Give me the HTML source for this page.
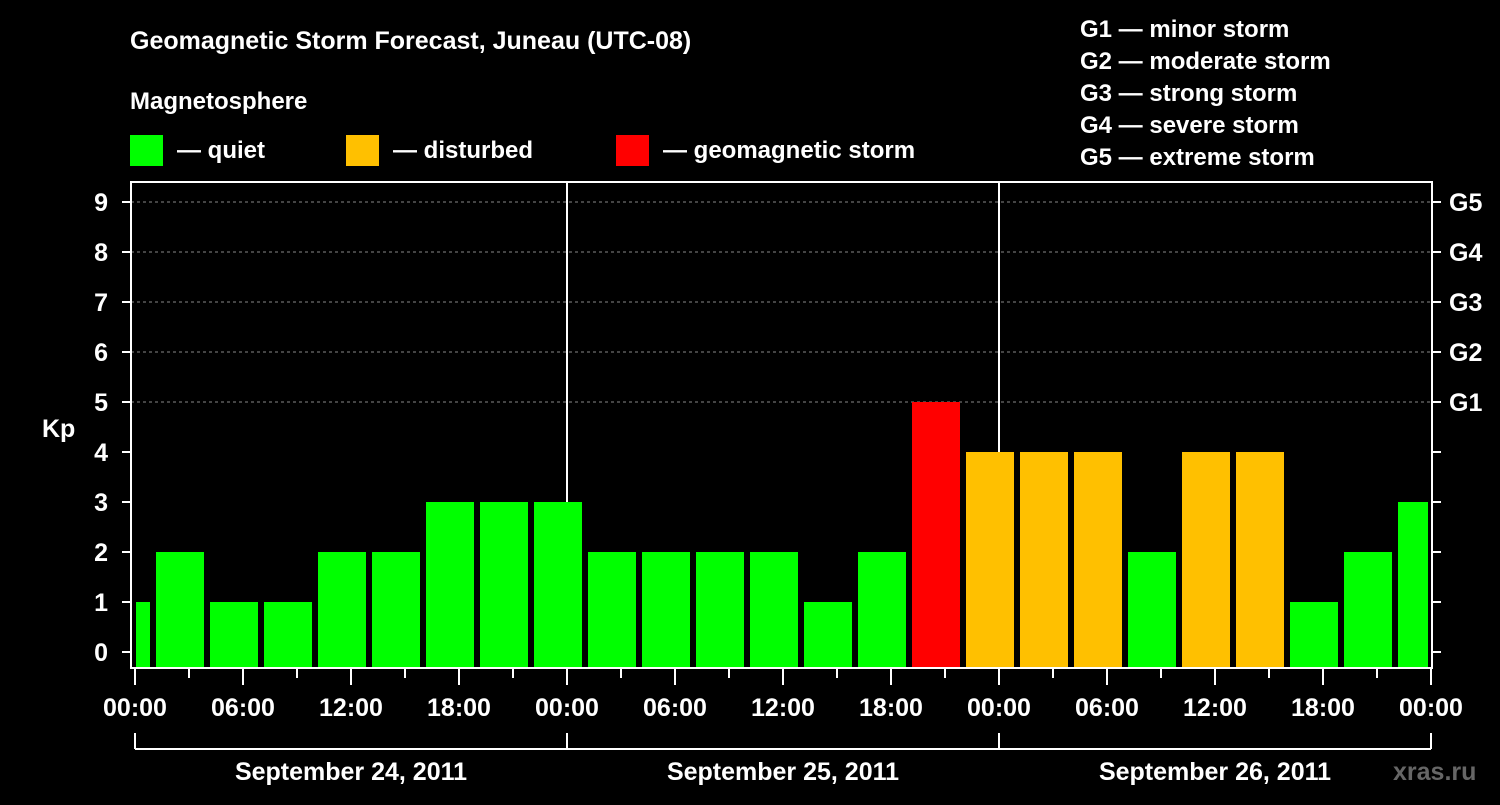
<!DOCTYPE html>
<html><head><meta charset="utf-8"><style>
body{margin:0;background:#000;width:1500px;height:800px;overflow:hidden}
text{font-family:"Liberation Sans",Arial,sans-serif;font-weight:bold;fill:#fff}
</style></head><body>
<svg id="chart" width="1500" height="800" xmlns="http://www.w3.org/2000/svg">
<rect width="1500" height="800" fill="#000"/>
<text x="130" y="49" font-size="25">Geomagnetic Storm Forecast, Juneau (UTC-08)</text>
<text x="130" y="109" font-size="24">Magnetosphere</text>
<g><rect x="130" y="135" width="33" height="31" fill="#00ff00"/><text x="177" y="158" font-size="24">— quiet</text></g>
<g><rect x="346" y="135" width="33" height="31" fill="#ffc000"/><text x="393" y="158" font-size="24">— disturbed</text></g>
<g><rect x="616" y="135" width="33" height="31" fill="#ff0000"/><text x="663" y="158" font-size="24">— geomagnetic storm</text></g>
<g font-size="24">
<text x="1080" y="37">G1 — minor storm</text>
<text x="1080" y="69">G2 — moderate storm</text>
<text x="1080" y="101">G3 — strong storm</text>
<text x="1080" y="133">G4 — severe storm</text>
<text x="1080" y="165">G5 — extreme storm</text>
</g>
<text x="42" y="437" font-size="25">Kp</text>
<g id="grid"></g><g id="bars"></g><g id="axes"></g>
<text x="1393" y="780" font-size="25" style="fill:#666">xras.ru</text>
</svg>
<script>
const kpValues=[1,2,1,1,2,2,3,3,3,2,2,2,2,1,2,5,4,4,4,2,4,4,1,2,3];
const binStartHours=[-2,1,4,7,10,13,16,19,22,25,28,31,34,37,40,43,46,49,52,55,58,61,64,67,70];
const dayLabels=["September 24, 2011","September 25, 2011","September 26, 2011"];
const hourLabels=["00:00","06:00","12:00","18:00"];
const gLabels=["G1","G2","G3","G4","G5"];
const NS="http://www.w3.org/2000/svg";
const X0=135,PX_H=18,TOTAL_H=72,Y0=652,PX_K=50,L=131,R=1432,T=182,B=668;
const xs=h=>X0+h*PX_H, ys=k=>Y0-k*PX_K;
function mk(p,tag,a){const e=document.createElementNS(NS,tag);for(const k in a)e.setAttribute(k,a[k]);document.getElementById(p).appendChild(e);return e;}
// grid dashed lines for 5..9
for(let k=5;k<=9;k++){const e=mk("grid","line",{x1:L,x2:R,y1:ys(k),y2:ys(k),stroke:"#888","stroke-dasharray":"3,3","stroke-width":1});

}
// day separators
for(let d=1;d<3;d++){const e=mk("grid","line",{x1:xs(d*24),x2:xs(d*24),y1:T,y2:B,stroke:"#fff","stroke-width":2});

}
// bars
kpValues.forEach((v,i)=>{
 let x1=Math.max(xs(binStartHours[i])+3,X0+1),x2=Math.min(xs(binStartHours[i]+3)-3,R-4);
 const c=v>=5?"#ff0000":v>=4?"#ffc000":"#00ff00";
 const e=mk("bars","rect",{x:x1,y:ys(v),width:x2-x1,height:B-ys(v),fill:c});
 
 
});
// frame
const f=mk("axes","rect",{x:L,y:T,width:R-L,height:B-T,fill:"none",stroke:"#fff","stroke-width":2});


// y ticks
for(let k=0;k<=9;k++){
 mk("axes","line",{x1:122,x2:L,y1:ys(k),y2:ys(k),stroke:"#fff","stroke-width":2});
 mk("axes","line",{x1:R,x2:1441,y1:ys(k),y2:ys(k),stroke:"#fff","stroke-width":2});
 const t=mk("axes","text",{x:108,y:ys(k)+9,"font-size":25,"text-anchor":"end"});t.textContent=k;
 
 
}
gLabels.forEach((g,i)=>{const t=mk("axes","text",{x:1449,y:ys(5+i)+9,"font-size":25});t.textContent=g;
 
 });
// x ticks
for(let h=0;h<=TOTAL_H;h+=3){
 const major=h%6===0;
 mk("axes","line",{x1:xs(h),x2:xs(h),y1:B,y2:major?685:678,stroke:"#fff","stroke-width":2});
 if(major){const t=mk("axes","text",{x:xs(h),y:716,"font-size":25,"text-anchor":"middle"});t.textContent=hourLabels[(h/6)%4];
 
 }
}
// day bracket
mk("axes","line",{x1:X0,x2:xs(TOTAL_H),y1:749,y2:749,stroke:"#fff","stroke-width":2});
for(let d=0;d<=3;d++)mk("axes","line",{x1:xs(d*24),x2:xs(d*24),y1:733,y2:749,stroke:"#fff","stroke-width":2});
dayLabels.forEach((s,d)=>{const t=mk("axes","text",{x:xs(d*24+12),y:780,"font-size":25,"text-anchor":"middle"});t.textContent=s;
 
 });
</script>
</body></html>
